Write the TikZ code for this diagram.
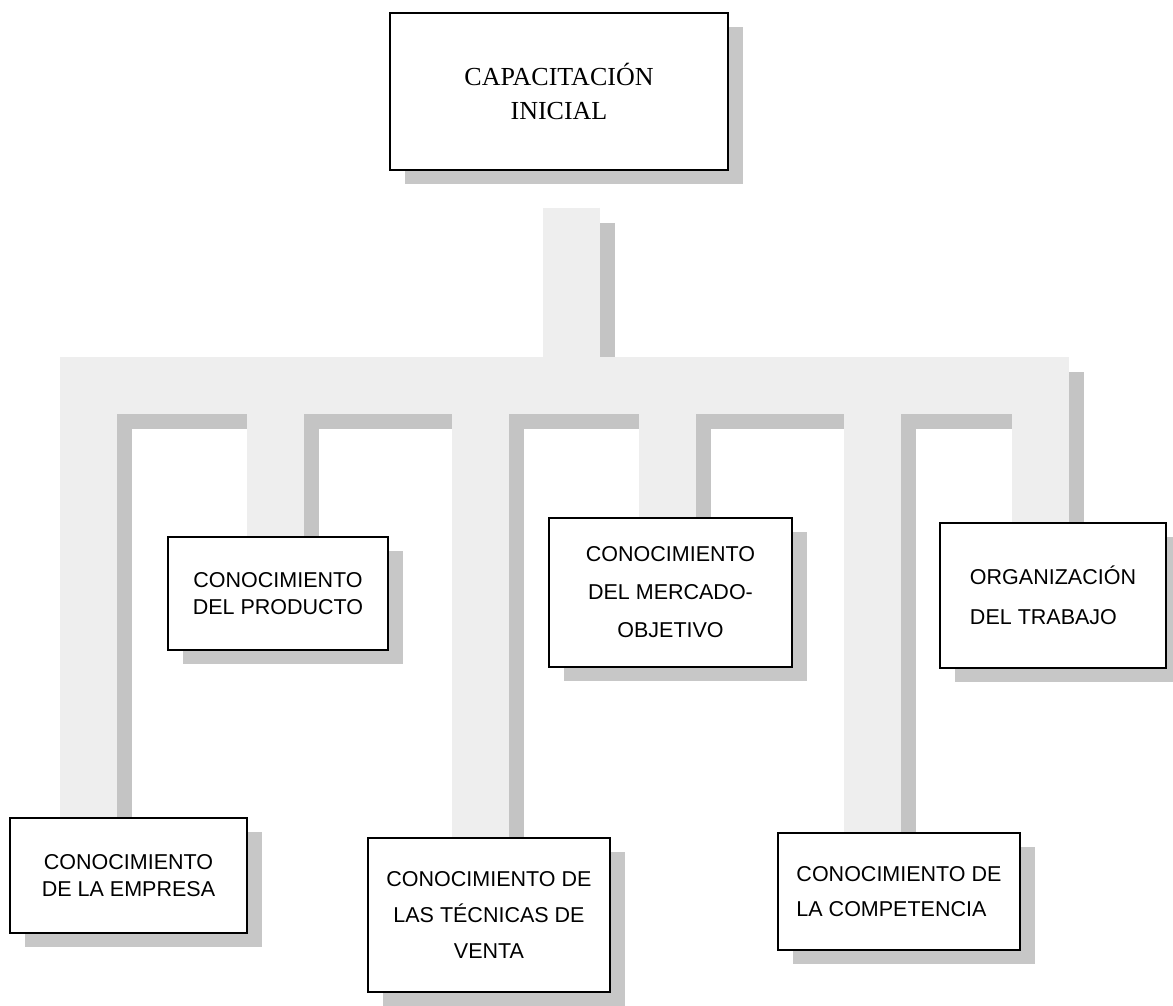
\documentclass[tikz,border=0pt]{standalone}
\usepackage{fontspec}
\setmainfont{Liberation Serif}
\newfontfamily\sansf{Liberation Sans}
\usetikzlibrary{calc,shadows}
\pgfdeclarelayer{bg}
\pgfsetlayers{bg,main}
\definecolor{pipelight}{gray}{0.935}
\definecolor{pipedark}{gray}{0.77}
\definecolor{boxshade}{gray}{0.78}
\tikzset{
  box/.style={draw=black, line width=1.6pt, fill=white, inner sep=0pt,
    drop shadow={shadow xshift=15pt, shadow yshift=-14pt, fill=boxshade, opacity=1}},
  sanstext/.style={font=\sansf\fontsize{21.5}{27}\selectfont, align=center},
  pipe/.style={draw=pipelight, line width=57pt, line join=miter, line cap=butt},
  pipeshade/.style={draw=pipedark, line width=57pt, line join=miter, line cap=butt,
    transform canvas={shift={(15pt,-15pt)}}}
}
\begin{document}
\begin{tikzpicture}[x=1pt,y=-1pt]
\useasboundingbox (0,0) rectangle (1173,1005);

% boxes
\node[box, minimum width=338pt, minimum height=157pt, align=center,
  font=\rmfamily\fontsize{26}{34}\selectfont] (top) at (559,91.5) {CAPACITACIÓN\\INICIAL};
\node[box, sanstext, minimum width=220pt, minimum height=113pt] (prod) at (278,593.5)
  {CONOCIMIENTO\\DEL PRODUCTO};
\node[box, sanstext, font=\sansf\fontsize{21.5}{38}\selectfont, minimum width=243pt, minimum height=149pt] (merc) at (670.5,592.5)
  {CONOCIMIENTO\\DEL MERCADO-\\OBJETIVO};
\node[box, sanstext, font=\sansf\fontsize{21.5}{40}\selectfont, align=left, minimum width=226pt, minimum height=145pt] (org) at (1053,595.5)
  {ORGANIZACIÓN\\DEL TRABAJO};
\node[box, sanstext, minimum width=237pt, minimum height=115pt] (emp) at (128.5,875.5)
  {CONOCIMIENTO\\DE LA EMPRESA};
\node[box, sanstext, font=\sansf\fontsize{21.5}{36}\selectfont, minimum width=242pt, minimum height=154pt] (tec) at (489,915)
  {CONOCIMIENTO DE\\LAS TÉCNICAS DE\\VENTA};
\node[box, sanstext, font=\sansf\fontsize{21.5}{35}\selectfont, align=left, minimum width=242pt, minimum height=117pt] (comp) at (899,891.5)
  {CONOCIMIENTO DE\\LA COMPETENCIA};

% connector points
\coordinate (st) at ($(top.south)+(12,37)$);
\coordinate (bs) at (571,385);
\coordinate (b1) at (88,385);
\coordinate (b2) at (275,385);
\coordinate (b3) at (480,385);
\coordinate (b4) at (667,385);
\coordinate (b5) at (872,385);
\coordinate (b6) at (1040,385);

\begin{pgfonlayer}{bg}
\fill[white] (0,0) rectangle (1173,1005);
\draw[pipeshade] (b1 |- emp.north) -- (b1) -- (b6) -- (b6 |- org.north)
  (b2) -- (b2 |- prod.north) (b3) -- (b3 |- tec.north)
  (b4) -- (b4 |- merc.north) (b5) -- (b5 |- comp.north) (st) -- (bs);
\draw[pipe] (b1 |- emp.north) -- (b1) -- (b6) -- (b6 |- org.north)
  (b2) -- (b2 |- prod.north) (b3) -- (b3 |- tec.north)
  (b4) -- (b4 |- merc.north) (b5) -- (b5 |- comp.north) (st) -- (bs);
\end{pgfonlayer}
\end{tikzpicture}
\end{document}
